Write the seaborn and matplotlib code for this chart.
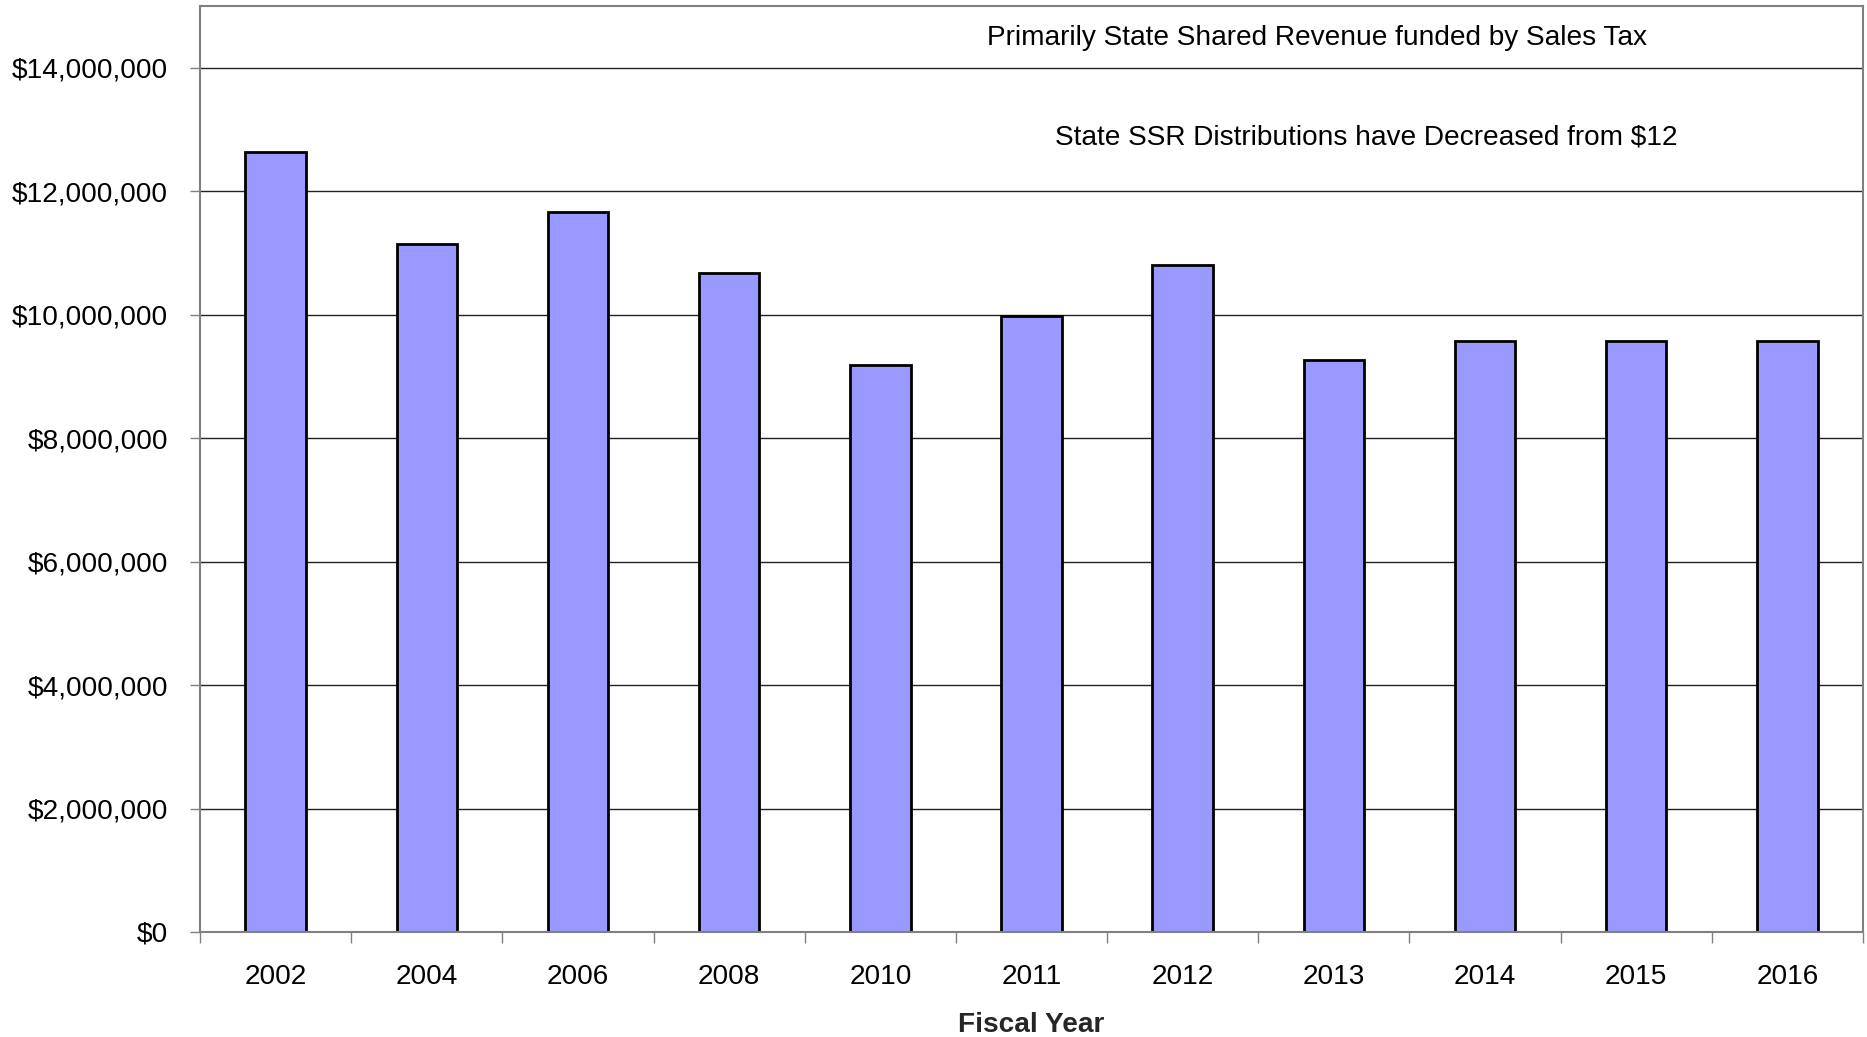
import matplotlib
matplotlib.use("Agg")
import matplotlib.pyplot as plt
import seaborn as sns
import numpy as np
import pandas as pd
from matplotlib.ticker import FuncFormatter, FixedLocator

years = ["2002", "2004", "2006", "2008", "2010", "2011", "2012", "2013", "2014", "2015", "2016"]
values = [12630000, 11150000, 11670000, 10680000, 9180000, 9980000, 10800000, 9270000, 9580000, 9580000, 9580000]
note_top = "Primarily State Shared Revenue funded by Sales Tax"
note_mid = "State SSR Distributions have Decreased from $12"
x_title = "Fiscal Year"

sns.set_theme(style="white")
plt.rcParams['font.family'] = ['Liberation Sans', 'DejaVu Sans']

df = pd.DataFrame({"year": years, "value": values})

fig = plt.figure(figsize=(18.67, 10.37), dpi=100)
ax = fig.add_axes([200/1867, 1-932/1037, (1863-200)/1867, (932-6)/1037])

sns.barplot(data=df, x="year", y="value", color="#9999FF", width=0.4,
            edgecolor="black", linewidth=2, saturation=1, ax=ax)

ax.set_ylim(0, 15000000)
ax.set_xlim(-0.5, len(years) - 0.5)
ax.set_yticks(np.arange(0, 14000001, 2000000))
ax.yaxis.set_major_formatter(FuncFormatter(lambda v, p: "${:,.0f}".format(v)))
ax.grid(axis="y", color="#222222", linewidth=1.0)
ax.set_axisbelow(True)

for s in ax.spines.values():
    s.set_color("#808080")
    s.set_linewidth(1.5)

fs = 20.2
ax.tick_params(axis="y", which="major", left=True, length=7, width=1, color="#808080",
               pad=16, labelsize=fs, labelcolor="black")
ax.tick_params(axis="x", which="major", bottom=False, length=0, pad=23,
               labelsize=fs, labelcolor="black")
ax.xaxis.set_minor_locator(FixedLocator(np.arange(-0.5, len(years), 1.0)))
ax.tick_params(axis="x", which="minor", bottom=True, length=8, width=1, color="#808080")

ax.set_xlabel(x_title, fontsize=fs, fontweight="bold", labelpad=16)
ax.set_ylabel("")

ax.text(0.473, 0.965, note_top, transform=ax.transAxes, fontsize=fs,
        ha="left", va="center", color="black")
ax.text(0.514, 0.858, note_mid, transform=ax.transAxes, fontsize=fs,
        ha="left", va="center", color="black")

fig.savefig("out.png", dpi=100)
